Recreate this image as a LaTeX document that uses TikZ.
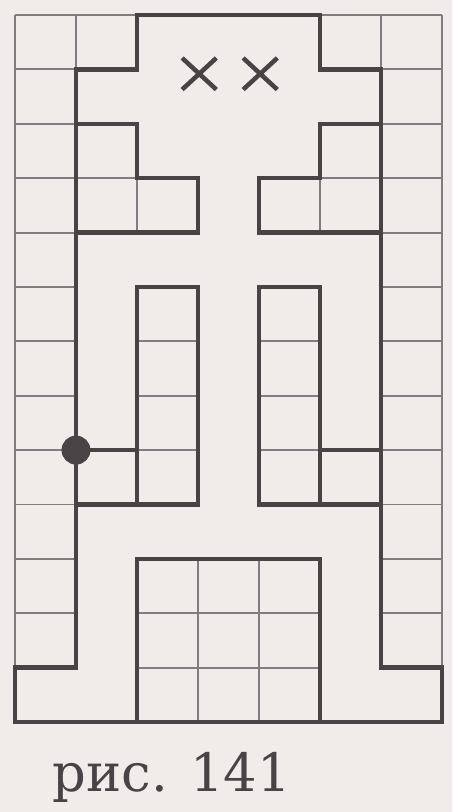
\documentclass[tikz,border=0pt]{standalone}
\usepackage{fontspec}
\setmainfont{DejaVu Serif}
\definecolor{paper}{RGB}{240,236,234}
\definecolor{ink}{RGB}{72,68,70}
\definecolor{thinink}{RGB}{128,125,128}
\tikzset{
  gridline/.style  = {thinink, line width=0.9pt},
  wall/.style      = {ink, line width=2.1pt, line join=miter},
  crossmark/.style = {ink, line width=2.1pt}
}
\begin{document}
\begin{tikzpicture}[x=1cm, y=0.8915cm]
        % paper
        \fill[paper] (-0.246,-1.655) rectangle (7.164,13.277);

        % grid everywhere, then clear the corridor
        \draw[gridline, step=1] (0,0) grid (7,13);
        \fill[paper] (2,13) -- (5,13) -- (5,12) -- (6,12) -- (6,1) -- (7,1) -- (7,0)
                     -- (0,0) -- (0,1) -- (1,1) -- (1,12) -- (2,12) -- cycle;

        % grid inside the blocks
        \draw[gridline, step=1] (1,9) grid (2,11);
        \draw[gridline, step=1] (2,9) grid (3,10);
        \draw[gridline, step=1] (4,9) grid (5,10);
        \draw[gridline, step=1] (5,9) grid (6,11);
        \draw[gridline, step=1] (2,4) grid (3,8);
        \draw[gridline, step=1] (4,4) grid (5,8);
        \draw[gridline, step=1] (2,0) grid (5,3);

        % outline of the figure
        \draw[wall] (2,13) -- (5,13) -- (5,12) -- (6,12) -- (6,1) -- (7,1) -- (7,0)
                    -- (0,0) -- (0,1) -- (1,1) -- (1,12) -- (2,12) -- cycle;

        % upper blocks
        \draw[wall] (1,11) -- (2,11) -- (2,10) -- (3,10) -- (3,9) -- (1,9);
        \draw[wall] (6,11) -- (5,11) -- (5,10) -- (4,10) -- (4,9) -- (6,9);

        % long blocks (with the closed cell beside each)
        \draw[wall] (2,4) rectangle (3,8);
        \draw[wall] (4,4) rectangle (5,8);
        \draw[wall] (1,5) -- (2,5)  (1,4) -- (2,4);
        \draw[wall] (5,5) -- (6,5)  (5,4) -- (6,4);

        % lower block
        \draw[wall] (2,0) -- (2,3) -- (5,3) -- (5,0);

        % start point
        \filldraw[ink] (1,5) circle (0.23cm);

        % the two crosses
        \coordinate (goalA) at (3.02,11.92);
        \coordinate (goalB) at (4.02,11.92);
        \draw[crossmark] ([shift={(-0.28,-0.29)}]goalA) -- ([shift={(0.28,0.29)}]goalA)
                         ([shift={(-0.28,0.29)}]goalA) -- ([shift={(0.28,-0.29)}]goalA);
        \draw[crossmark] ([shift={(-0.28,-0.29)}]goalB) -- ([shift={(0.28,0.29)}]goalB)
                         ([shift={(-0.28,0.29)}]goalB) -- ([shift={(0.28,-0.29)}]goalB);

        % caption
        \node[anchor=base, text=ink, inner sep=0pt, font=\fontsize{24.6}{29}\selectfont]
             (caption) at (2.57,-1.287) {рис. 141};
\end{tikzpicture}
\end{document}
